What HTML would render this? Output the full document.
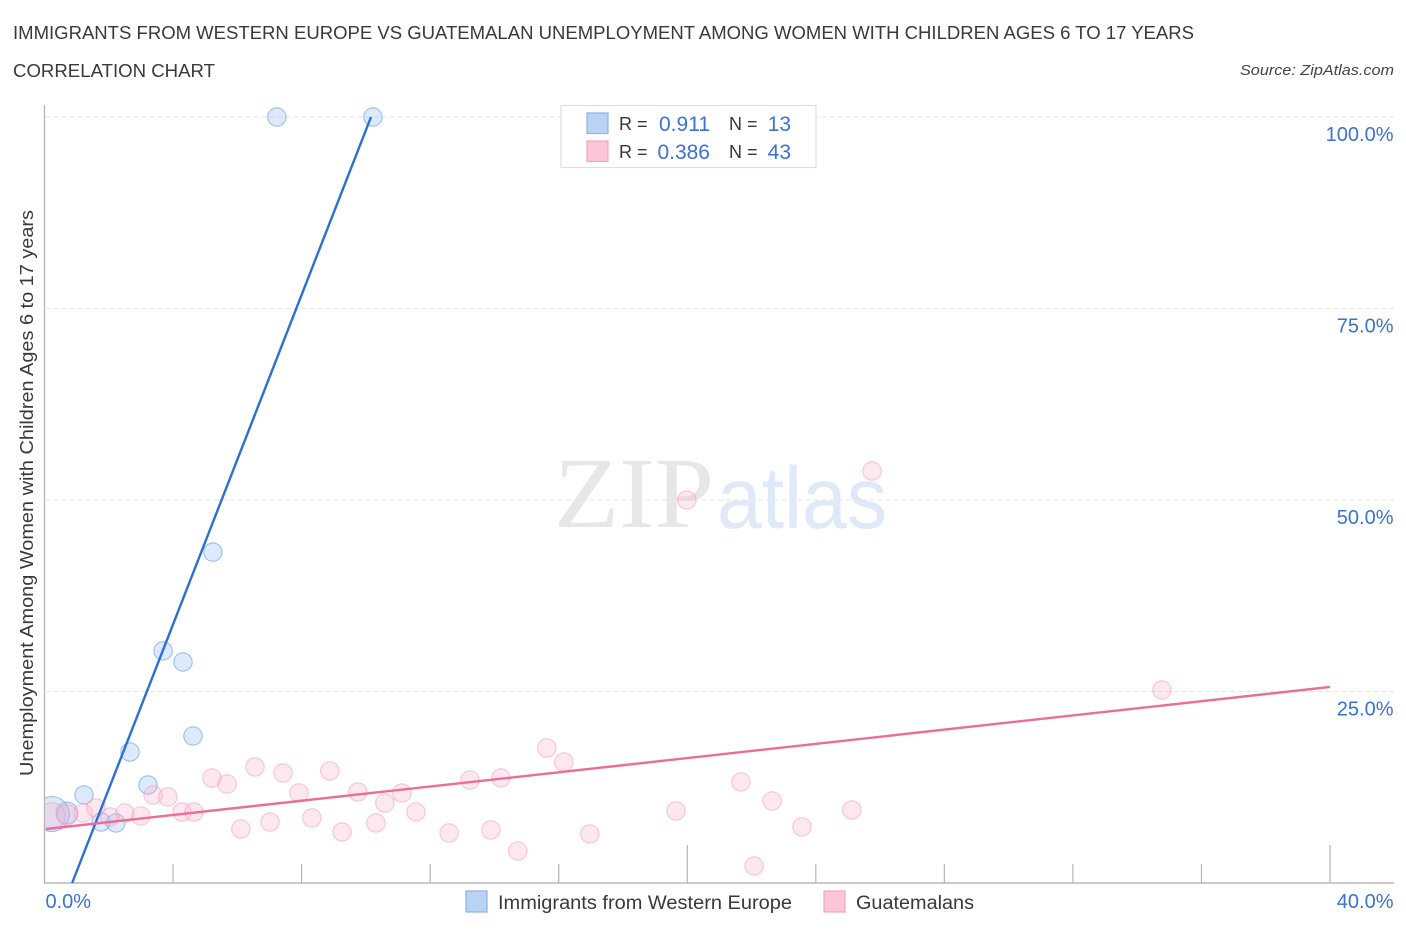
<!DOCTYPE html>
<html lang="en">
<head>
<meta charset="utf-8">
<title>Correlation Chart</title>
<style>
html,body{margin:0;padding:0;background:#fff;}
svg{display:block;font-family:"Liberation Sans",sans-serif;}
</style>
</head>
<body>
<svg id="chart" xmlns="http://www.w3.org/2000/svg" width="1406" height="930" viewBox="0 0 1406 930">
  <rect x="0" y="0" width="1406" height="930" fill="#ffffff"/>
  <defs><clipPath id="plot-clip"><rect x="45" y="100" width="1350" height="783"/></clipPath></defs>

  <text x="13" y="39" font-size="18.5" fill="#38383e" textLength="1181" lengthAdjust="spacingAndGlyphs">IMMIGRANTS FROM WESTERN EUROPE VS GUATEMALAN UNEMPLOYMENT AMONG WOMEN WITH CHILDREN AGES 6 TO 17 YEARS</text>
  <text x="13" y="77" font-size="18.5" fill="#38383e" textLength="202" lengthAdjust="spacingAndGlyphs">CORRELATION CHART</text>
  <text x="1394" y="75" font-size="15" font-style="italic" fill="#444" text-anchor="end" textLength="154" lengthAdjust="spacingAndGlyphs">Source: ZipAtlas.com</text>

  <text x="554" y="527" font-family="'Liberation Serif',serif" font-size="101" font-weight="400" fill="#e7e7e7" textLength="160" lengthAdjust="spacingAndGlyphs">ZIP</text>
  <text x="717" y="528" font-size="87" fill="#dfe9f8" textLength="170" lengthAdjust="spacingAndGlyphs">atlas</text>

  <g id="grid"></g>
  <g id="axes"></g>
  <g id="points-blue" clip-path="url(#plot-clip)"></g>
  <g id="points-pink" clip-path="url(#plot-clip)"></g>
  <g id="trends"></g>
  <g id="labels"></g>

  <text transform="translate(33,493) rotate(-90)" font-size="18.5" fill="#38383e" text-anchor="middle" textLength="566" lengthAdjust="spacingAndGlyphs">Unemployment Among Women with Children Ages 6 to 17 years</text>

  <g>
    <rect x="561" y="105.500" width="255" height="62" fill="#fff" stroke="#dedede" stroke-width="1.200"/>
    <rect x="587" y="113" width="21" height="20.500" fill="#b9d3f7" stroke="#8db2e6" stroke-width="1.200"/>
    <rect x="587" y="141" width="21" height="20.500" fill="#fcc6d8" stroke="#f2a6c0" stroke-width="1.200"/>
    <text x="619" y="130" font-size="18" fill="#38383e">R =</text>
    <text x="710" y="131" font-size="21" fill="#3a72d4" text-anchor="end">0.911</text>
    <text x="729" y="130" font-size="18" fill="#38383e">N =</text>
    <text x="791" y="131" font-size="21" fill="#3a72d4" text-anchor="end">13</text>
    <text x="619" y="158" font-size="18" fill="#38383e">R =</text>
    <text x="710" y="159" font-size="21" fill="#3a72d4" text-anchor="end">0.386</text>
    <text x="729" y="158" font-size="18" fill="#38383e">N =</text>
    <text x="791" y="159" font-size="21" fill="#3a72d4" text-anchor="end">43</text>
  </g>

  <g>
    <rect x="466" y="891" width="21" height="21" fill="#b9d3f7" stroke="#8db2e6" stroke-width="1.200"/>
    <text x="498" y="909" font-size="19" fill="#38383e" textLength="294" lengthAdjust="spacingAndGlyphs">Immigrants from Western Europe</text>
    <rect x="824" y="891" width="21" height="21" fill="#fcc6d8" stroke="#f2a6c0" stroke-width="1.200"/>
    <text x="856" y="909" font-size="19" fill="#38383e" textLength="118" lengthAdjust="spacingAndGlyphs">Guatemalans</text>
  </g>
</svg>

<script>
var yTickValues = [25, 50, 75, 100];
var yTickLabels = ["25.0%", "50.0%", "75.0%", "100.0%"];
var xTickValues = [4, 8, 12, 16, 20, 24, 28, 32, 36, 40];
var xMajorTicks = [20, 40];
var xEndLabels = ["0.0%", "40.0%"];

var blueX = [7.23, 10.22, 5.24, 3.69, 4.31, 4.62, 2.66, 3.22, 1.23, 1.76, 2.22, 0.70, 0.23];
var blueY = [100, 100, 43.2, 30.3, 28.85, 19.19, 17.1, 12.79, 11.49, 7.96, 7.83, 9.14, 9.0];
var blueWeight = [1, 1, 1, 1, 1, 1, 1, 1, 1, 1, 1, 1.4, 3.6];

var pinkX = [0.23, 0.70, 1.20, 1.60, 2.04, 2.50, 3.00, 3.38, 3.84, 4.28, 4.65, 5.21, 5.68, 6.11, 6.55, 7.02, 7.42, 7.92, 8.32, 8.88, 9.26, 9.75, 10.31, 10.59, 11.12, 11.56, 12.59, 13.24, 13.89, 14.20, 14.73, 15.63, 16.16, 16.97, 19.65, 19.99, 21.67, 22.08, 22.64, 23.57, 25.12, 25.75, 34.77];
var pinkY = [8.75, 8.88, 9.14, 9.79, 8.62, 9.14, 8.75, 11.49, 11.23, 9.27, 9.27, 13.71, 12.92, 7.05, 15.14, 7.96, 14.36, 11.75, 8.49, 14.62, 6.66, 11.88, 7.83, 10.44, 11.75, 9.27, 6.53, 13.45, 6.92, 13.71, 4.18, 17.62, 15.80, 6.40, 9.40, 50, 13.19, 2.22, 10.70, 7.31, 9.53, 53.79, 25.2];
var pinkWeight = [2.1, 1.25, 1, 1, 1, 1, 1, 1, 1, 1, 1, 1, 1, 1, 1, 1, 1, 1, 1, 1, 1, 1, 1, 1, 1, 1, 1, 1, 1, 1, 1, 1, 1, 1, 1, 1, 1, 1, 1, 1, 1, 1, 1];

var blueTrendX = [0.86, 10.16];
var blueTrendY = [0, 100];
var pinkTrendX = [0.05, 40];
var pinkTrendY = [7.05, 25.59];

var NS = "http://www.w3.org/2000/svg";
function xScale(v) { return 44.5 + v / 40 * 1285.5; }
function yScale(v) { return 883 - v / 100 * 766; }
function radius(w) { return 9.2 * Math.sqrt(w); }
function make(tag, attrs, parent) {
  var el = document.createElementNS(NS, tag);
  for (var k in attrs) { el.setAttribute(k, attrs[k]); }
  parent.appendChild(el);
  return el;
}

var grid = document.getElementById("grid");
var axes = document.getElementById("axes");
var labels = document.getElementById("labels");

yTickValues.forEach(function (v, i) {
  var line = make("line", {x1: 46, x2: 1394, y1: yScale(v), y2: yScale(v), stroke: "#e6e6e6", "stroke-width": 1, "stroke-dasharray": "5 3"}, grid);
  
  
  var t = make("text", {x: 1393.500, y: yScale(v) + 24, "text-anchor": "end", "font-size": 20, fill: "#3a72d4"}, labels);
  t.textContent = yTickLabels[i];
  
  
});

var yAxis = make("line", {x1: 44.5, x2: 44.5, y1: 105, y2: 883, stroke: "#b4b4b4", "stroke-width": 1.300}, axes);


var xAxis = make("line", {x1: 44, x2: 1394, y1: 883, y2: 883, stroke: "#b9b9b9", "stroke-width": 1.500}, axes);



xTickValues.forEach(function (v) {
  var top = xMajorTicks.indexOf(v) >= 0 ? 845 : 864;
  var tick = make("line", {x1: xScale(v), x2: xScale(v), y1: top, y2: 883, stroke: "#b4b4b4", "stroke-width": 1.200}, axes);
  
  
});

var x0 = make("text", {x: xScale(0) + 1, y: 908, "font-size": 20, fill: "#3a72d4"}, labels);
x0.textContent = xEndLabels[0];


var x1 = make("text", {x: 1393.500, y: 908, "text-anchor": "end", "font-size": 20, fill: "#3a72d4"}, labels);
x1.textContent = xEndLabels[1];



var gBlue = document.getElementById("points-blue");
blueX.forEach(function (v, i) {
  var c = make("circle", {cx: xScale(v), cy: yScale(blueY[i]), r: radius(blueWeight[i]), fill: "rgba(160,197,245,0.36)", stroke: "rgba(90,145,225,0.55)", "stroke-width": 1.100}, gBlue);
  
  
});

var gPink = document.getElementById("points-pink");
pinkX.forEach(function (v, i) {
  var c = make("circle", {cx: xScale(v), cy: yScale(pinkY[i]), r: radius(pinkWeight[i]), fill: "rgba(248,178,202,0.30)", stroke: "rgba(240,150,182,0.52)", "stroke-width": 1.100}, gPink);
  
  
});

var trends = document.getElementById("trends");
var blueLine = make("line", {x1: xScale(blueTrendX[0]), y1: yScale(blueTrendY[0]), x2: xScale(blueTrendX[1]), y2: yScale(blueTrendY[1]), stroke: "#2a70d6", "stroke-width": 2.400}, trends);


var pinkLine = make("line", {x1: xScale(pinkTrendX[0]), y1: yScale(pinkTrendY[0]), x2: xScale(pinkTrendX[1]), y2: yScale(pinkTrendY[1]), stroke: "#ec6c9a", "stroke-width": 2.400}, trends);


</script>
</body>
</html>
